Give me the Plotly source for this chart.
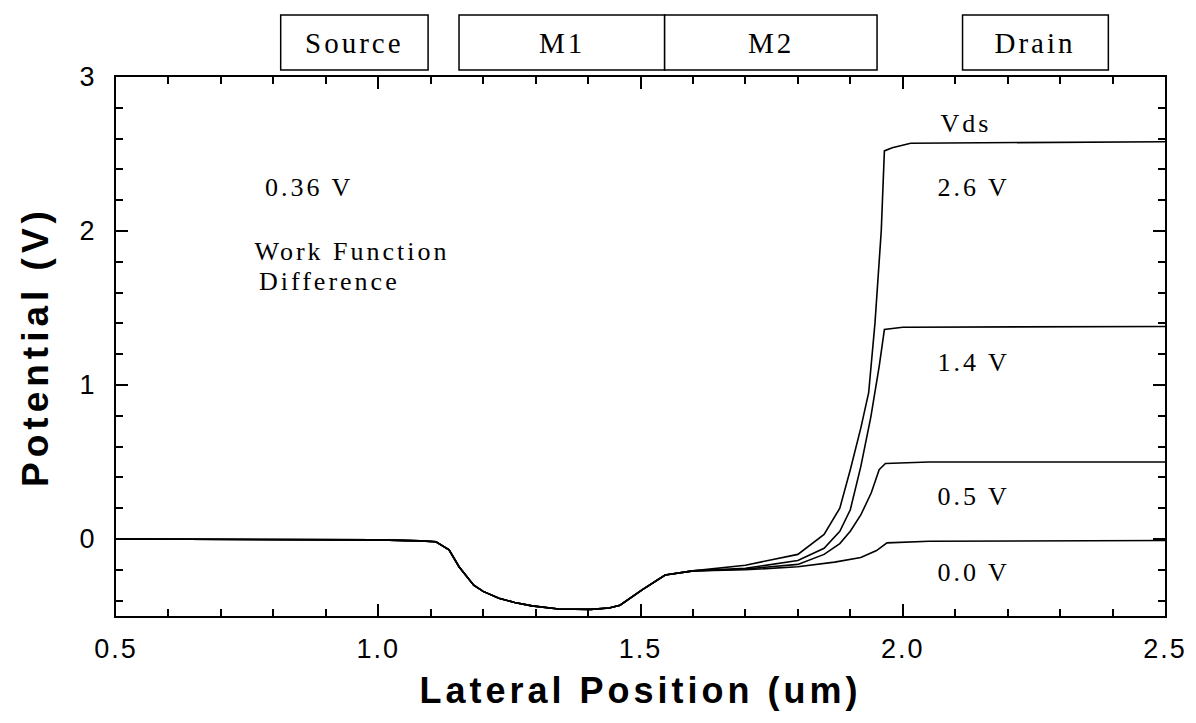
import plotly.graph_objects as go

# Shared potential profile from source through the channel (um, V)
pos_common = [0.50, 0.80, 1.00, 1.08, 1.11, 1.135, 1.154, 1.182, 1.20, 1.23, 1.26, 1.293,
              1.344, 1.405, 1.44, 1.461, 1.503, 1.547, 1.60]
pot_common = [0.00, -0.002, -0.006, -0.012, -0.018, -0.07, -0.18, -0.30, -0.34, -0.385,
              -0.412, -0.434, -0.455, -0.457, -0.448, -0.43, -0.33, -0.234, -0.207]

# Drain-side branches for each drain bias
pos_0v0 = [1.70, 1.80, 1.87, 1.92, 1.95, 1.97, 2.05, 2.50]
pot_0v0 = [-0.20, -0.18, -0.15, -0.12, -0.075, -0.025, -0.015, -0.01]

pos_0v5 = [1.70, 1.80, 1.85, 1.88, 1.90, 1.92, 1.94, 1.955, 1.967, 2.05, 2.50]
pot_0v5 = [-0.195, -0.165, -0.10, -0.03, 0.05, 0.156, 0.30, 0.45, 0.49, 0.50, 0.50]

pos_1v4 = [1.70, 1.80, 1.85, 1.88, 1.90, 1.92, 1.939, 1.955, 1.965, 2.00, 2.50]
pot_1v4 = [-0.19, -0.14, -0.06, 0.05, 0.19, 0.47, 0.79, 1.12, 1.36, 1.375, 1.38]

pos_2v6 = [1.70, 1.80, 1.85, 1.88, 1.90, 1.92, 1.935, 1.947, 1.959, 1.965, 1.98, 2.015, 2.50]
pot_2v6 = [-0.17, -0.10, 0.03, 0.20, 0.45, 0.72, 0.95, 1.40, 2.00, 2.52, 2.54, 2.57, 2.58]

branches = [(pos_0v0, pot_0v0), (pos_0v5, pot_0v5), (pos_1v4, pot_1v4), (pos_2v6, pot_2v6)]

# Electrode regions drawn above the plot
electrodes = ["Source", "M1", "M2", "Drain"]
electrode_x0 = [0.814, 1.154, 1.546, 2.114]
electrode_x1 = [1.095, 1.546, 1.951, 2.392]

# Drain-bias labels and the work-function note
bias_labels = ["Vds", "2.6 V", "1.4 V", "0.5 V", "0.0 V"]
bias_label_y = [2.70, 2.285, 1.143, 0.273, -0.22]
note_lines = ["0.36 V", "Work Function", "Difference"]
note_y = [2.28, 1.864, 1.669]

x_ticks = [0.5, 1.0, 1.5, 2.0, 2.5]
x_ticktext = ["0.5", "1.0", "1.5", "2.0", "2.5"]
y_ticks = [0, 1, 2, 3]

fig = go.Figure()
for px, pv in branches:
    fig.add_trace(go.Scatter(x=pos_common + px, y=pot_common + pv, mode="lines",
                             line=dict(color="black", width=1.6), showlegend=False,
                             hoverinfo="skip"))

serif = "Liberation Serif, Times New Roman, serif"
sans = "Liberation Sans, Arial, sans-serif"

for name, a, b in zip(electrodes, electrode_x0, electrode_x1):
    fig.add_shape(type="rect", xref="x", yref="paper", x0=a, x1=b, y0=1.013, y1=1.115,
                  line=dict(color="black", width=1.5), fillcolor="white")
    fig.add_annotation(x=(a + b) / 2, y=1.064, xref="x", yref="paper", text=name,
                       showarrow=False, xanchor="center", yanchor="middle",
                       font=dict(family=serif, size=29, color="black"))

for t, y in zip(note_lines, note_y):
    fig.add_annotation(x=0.797, y=y, text=t, showarrow=False, xanchor="left",
                       yanchor="middle", font=dict(family=serif, size=26, color="black"))

for t, y in zip(bias_labels, bias_label_y):
    fig.add_annotation(x=2.076, y=y, text=t, showarrow=False, xanchor="left",
                       yanchor="middle", font=dict(family=serif, size=26, color="black"))

fig.update_xaxes(range=[0.5, 2.5], tickvals=x_ticks, ticktext=x_ticktext,
                 ticks="inside", ticklen=12, tickwidth=1.5, tickcolor="black",
                 minor=dict(ticks="inside", ticklen=7, dtick=0.1, tickwidth=1.5,
                            tickcolor="black"),
                 showline=True, linecolor="black", linewidth=2, mirror="allticks",
                 showgrid=False, zeroline=False, ticklabelstandoff=8,
                 tickfont=dict(family=sans, size=27, color="black"),
                 title=dict(text="<b>Lateral Position (um)</b>", standoff=14,
                            font=dict(family=sans, size=36, color="black")))
fig.update_yaxes(range=[-0.5, 3], tickvals=y_ticks, ticks="inside", ticklen=12,
                 tickwidth=1.5, tickcolor="black",
                 minor=dict(ticks="inside", ticklen=7, dtick=0.2, tick0=0, tickwidth=1.5,
                            tickcolor="black"),
                 showline=True, linecolor="black", linewidth=2, mirror="allticks",
                 showgrid=False, zeroline=False, ticklabelstandoff=14,
                 tickfont=dict(family=sans, size=27, color="black"),
                 title=dict(text="<b>Potential (V)</b>", standoff=20,
                            font=dict(family=sans, size=37, color="black")))

fig.update_layout(width=1196, height=723, margin=dict(l=116, r=28, t=77, b=107),
                  paper_bgcolor="white", plot_bgcolor="white")

spacing_js = """
var gd = document.getElementById('{plot_id}');
function spread(){
  gd.querySelectorAll('.xtitle').forEach(function(t){t.setAttribute('letter-spacing','4px');});
  gd.querySelectorAll('.ytitle').forEach(function(t){t.setAttribute('letter-spacing','5px');});
  gd.querySelectorAll('.annotation-text').forEach(function(t){t.setAttribute('letter-spacing','3px');});
  gd.querySelectorAll('.xtick text').forEach(function(t){t.setAttribute('letter-spacing','2px');});
}
spread();
gd.on('plotly_afterplot', spread);
"""

fig.write_html("out.html", post_script=spacing_js)
